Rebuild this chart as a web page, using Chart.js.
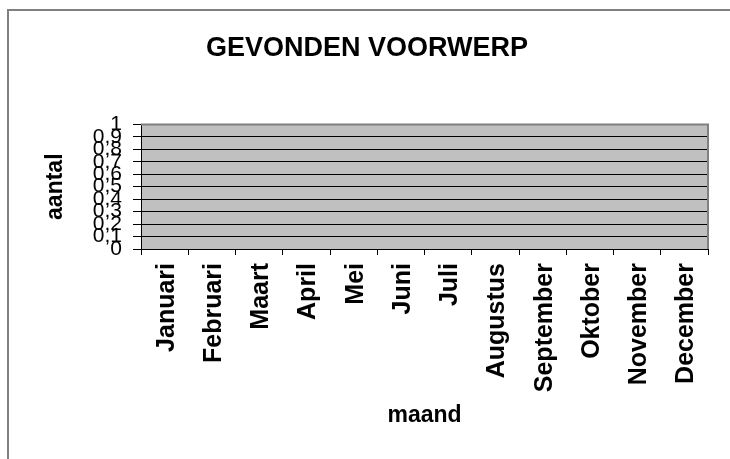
<!DOCTYPE html>
<html>
<head>
<meta charset="utf-8">
<script src="https://cdn.jsdelivr.net/npm/chart.js@4/dist/chart.umd.min.js"></script>
<style>
  html, body { margin: 0; padding: 0; background: #ffffff; }
  #wrap { position: relative; width: 730px; height: 459px; overflow: hidden; }
  #frame { position: absolute; left: 7px; top: 9px; width: 800px; height: 500px;
           border-top: 2px solid #808080; border-left: 2px solid #808080; pointer-events: none; }
  canvas { display: block; }
</style>
</head>
<body>
<div id="wrap">
  <canvas id="c" width="730" height="459"></canvas>
  <div id="frame"></div>
</div>
<script>
const months = ['Januari', 'Februari', 'Maart', 'April', 'Mei', 'Juni', 'Juli',
                'Augustus', 'September', 'Oktober', 'November', 'December'];
const counts = [null, null, null, null, null, null, null, null, null, null, null, null];
const yTickLabels = ['0', '0,1', '0,2', '0,3', '0,4', '0,5', '0,6', '0,7', '0,8', '0,9', '1'];
const chartTitle = 'GEVONDEN VOORWERP';
const yTitle = 'aantal';
const xTitle = 'maand';

const FONT = "Arial, 'Liberation Sans', sans-serif";

const plotArea = {
  id: 'plotArea',
  beforeDraw(chart) {
    const { ctx, chartArea: a } = chart;
    ctx.save();
    ctx.fillStyle = '#c0c0c0';
    ctx.fillRect(a.left, a.top, a.right - a.left, a.bottom - a.top);
    ctx.restore();
  },
  afterDraw(chart) {
    const { ctx, chartArea: a } = chart;
    ctx.save();
    ctx.strokeStyle = '#808080';
    ctx.lineWidth = 2;
    ctx.beginPath();
    ctx.moveTo(a.left, a.top);
    ctx.lineTo(a.right, a.top);
    ctx.lineTo(a.right, a.bottom);
    ctx.stroke();
    ctx.restore();
  }
};

new Chart(document.getElementById('c'), {
  type: 'bar',
  data: {
    labels: months,
    datasets: [{ label: yTitle, data: counts, backgroundColor: '#9999ff' }]
  },
  options: {
    responsive: false,
    animation: false,
    devicePixelRatio: 1,
    layout: { padding: { left: 26, right: 22, top: 0, bottom: 0 } },
    plugins: {
      legend: { display: false },
      tooltip: { enabled: false },
      title: {
        display: true,
        text: chartTitle,
        color: '#000',
        font: { family: FONT, size: 27, weight: 'bold', lineHeight: 1.2 },
        padding: { top: 32, bottom: 60 }
      }
    },
    scales: {
      x: {
        offset: true,
        grid: { offset: true, drawOnChartArea: false, color: '#000', tickLength: 6, tickColor: '#000' },
        border: { color: '#000', width: 1 },
        ticks: {
          autoSkip: false, minRotation: 90, maxRotation: 90, padding: 8, labelOffset: 2,
          color: '#000', font: { family: FONT, size: 25, weight: 'bold' }
        },
        title: {
          display: true, text: xTitle, color: '#000',
          font: { family: FONT, size: 23, weight: 'bold', lineHeight: 1.2 },
          padding: { top: 0, bottom: 30 }
        },
        afterFit(scale) { scale.height = 210; }
      },
      y: {
        min: 0, max: 1,
        ticks: {
          stepSize: 0.1, autoSkip: false, padding: 11, color: '#000',
          font: { family: FONT, size: 21 },
          callback: (v, i) => yTickLabels[i]
        },
        grid: {
          color: (c) => (c.tick && c.tick.value >= 0.999 ? '#808080' : '#000'),
          tickColor: '#000', tickLength: 8, lineWidth: 1
        },
        border: { color: '#000', width: 1 },
        title: {
          display: true, text: yTitle, color: '#000',
          font: { family: FONT, size: 23, weight: 'bold', lineHeight: 1.2 },
          padding: { top: 16, bottom: 0 }
        },
        afterFit(scale) { scale.width = 115; }
      }
    }
  },
  plugins: [plotArea]
});
</script>
</body>
</html>
